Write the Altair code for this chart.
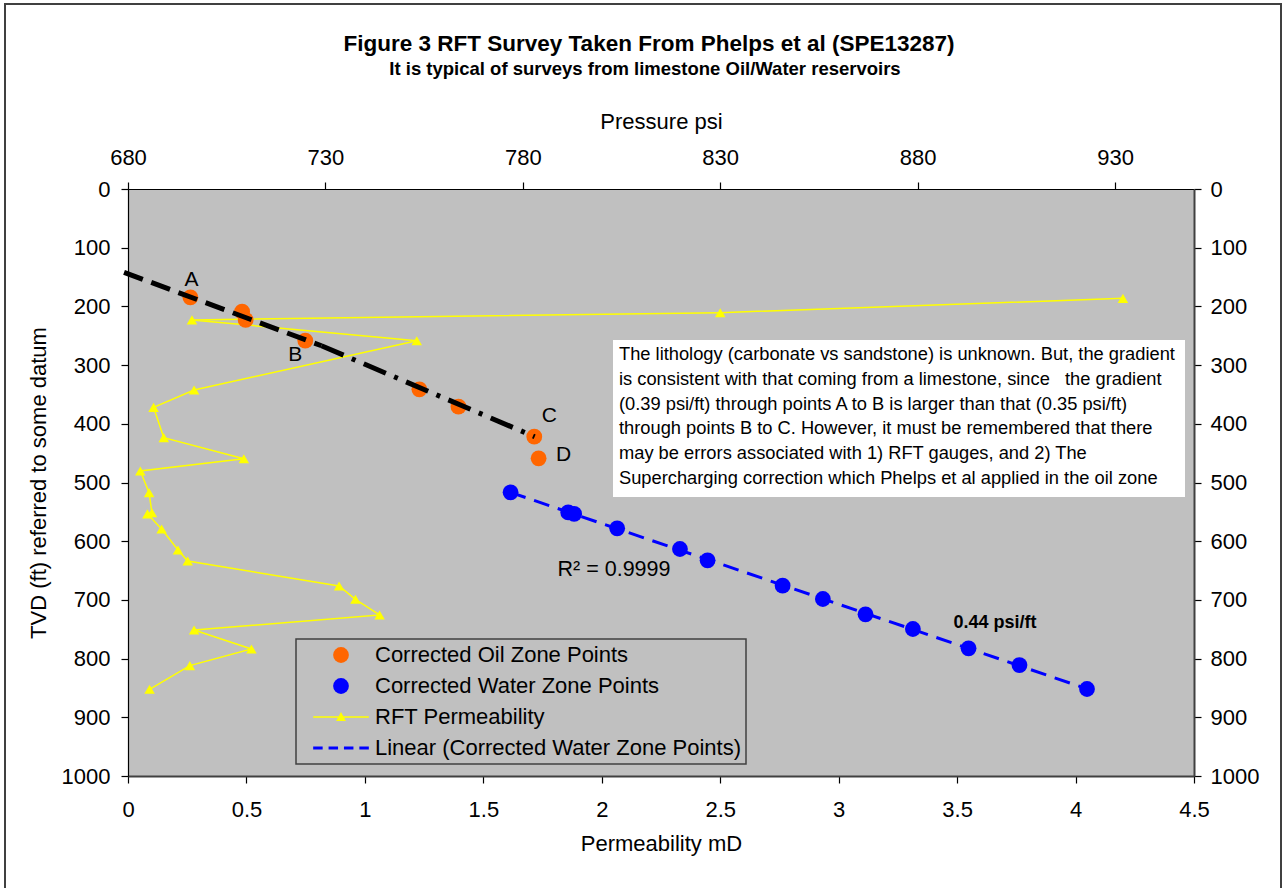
import altair as alt
import pandas as pd

FONT = "Liberation Sans"

# ---------------- data ----------------
# Corrected oil zone points: pressure (psi, top axis) vs TVD (ft)
oil_psi = [695.8, 708.9, 709.8, 724.9, 753.8, 763.7, 782.9, 784.0]
oil_tvd = [184.5, 209.0, 223.0, 258.4, 341.3, 370.8, 422.0, 458.8]
oil_lbl = ["A", "", "", "B", "", "", "C", "D"]

# Corrected water zone points
water_psi = [776.9, 791.5, 793.0, 803.9, 819.8, 826.8, 845.8, 856.0, 866.8, 878.8, 892.9, 905.8, 922.9]
water_tvd = [516.8, 551.0, 553.5, 578.0, 613.3, 632.6, 675.8, 698.5, 724.6, 749.6, 782.5, 811.0, 851.8]

# RFT permeability (mD, bottom axis) vs TVD, in survey order
rft_md = [4.20, 2.50, 0.270, 1.219, 0.279, 0.108, 0.151, 0.489, 0.052, 0.089, 0.101,
          0.082, 0.142, 0.211, 0.252, 0.891, 0.960, 1.062, 0.279, 0.521, 0.261, 0.091]
rft_tvd = [186.3, 210.7, 223.0, 258.4, 342.4, 372.0, 423.6, 459.4, 480.4, 517.3, 551.5,
           553.5, 579.2, 615.0, 633.7, 676.3, 699.0, 725.7, 751.3, 783.6, 812.0, 852.3]

# Hand-drawn gradient lines through the oil points
grad_ab_psi = [679.0, 729.0]
grad_ab_tvd = [142.0, 267.0]
grad_bc_psi = [729.0, 783.0]
grad_bc_tvd = [267.0, 422.0]

# Annotations (data positions)
r2_text = ["R\u00b2 = 0.9999"]
r2_psi = [803.1]
r2_tvd = [649.0]
slope_text = ["0.44 psi/ft"]
slope_psi = [899.6]
slope_tvd = [739.0]

box_lines = [
    "The lithology (carbonate vs sandstone) is unknown. But, the gradient",
    "is consistent with that coming from a limestone, since \u00a0 the gradient",
    "(0.39 psi/ft) through points A to B is larger than that (0.35 psi/ft)",
    "through points B to C. However, it must be remembered that there",
    "may be errors associated with 1) RFT gauges, and 2) The",
    "Supercharging correction which Phelps et al applied in the oil zone",
]

series_names = ["Corrected Oil Zone Points", "Corrected Water Zone Points",
                "RFT Permeability", "Linear (Corrected Water Zone Points)"]
series_colors = ["#FF6600", "#0000FF", "#FFFF00", "#0000FF"]

md_ticks = [0, 0.5, 1, 1.5, 2, 2.5, 3, 3.5, 4, 4.5]
psi_ticks = [680, 730, 780, 830, 880, 930]
tvd_ticks = [0, 100, 200, 300, 400, 500, 600, 700, 800, 900, 1000]

# ---------------- layout ----------------
X0, Y0 = 128, 189
W, H = 1066, 587

RFT_PATH = "M-3.52,-0.1H3.52V0.1H-3.52Z M0,-0.62L0.62,0.5L-0.62,0.5Z"
LIN_PATH = ("M-3.52,-0.19H-2.32V0.19H-3.52Z M-1.573,-0.19H-0.373V0.19H-1.573Z "
            "M0.373,-0.19H1.573V0.19H0.373Z M2.32,-0.19H3.52V0.19H2.32Z")
series_shapes = ["circle", "circle", RFT_PATH, LIN_PATH]

oil_df = pd.DataFrame({"psi": oil_psi, "tvd": oil_tvd, "label": oil_lbl,
                       "series": series_names[0]})
water_df = pd.DataFrame({"psi": water_psi, "tvd": water_tvd, "label": "",
                         "series": series_names[1]})
pts_df = pd.concat([oil_df, water_df], ignore_index=True)
rft_df = pd.DataFrame({"md": rft_md, "tvd": rft_tvd, "i": list(range(len(rft_md)))})
ab_df = pd.DataFrame({"psi": grad_ab_psi, "tvd": grad_ab_tvd})
bc_df = pd.DataFrame({"psi": grad_bc_psi, "tvd": grad_bc_tvd})
r2_df = pd.DataFrame({"psi": r2_psi, "tvd": r2_tvd, "t": r2_text})
slope_df = pd.DataFrame({"psi": slope_psi, "tvd": slope_tvd, "t": slope_text})
one = pd.DataFrame({"k": [0]})

y_scale = alt.Scale(domain=[0, 1000], reverse=True, nice=False, zero=False)
y_left = alt.Y("tvd:Q", scale=y_scale,
               axis=alt.Axis(orient="left", values=tvd_ticks, format="d",
                             title="TVD (ft) referred to some datum",
                             labelPadding=11, titlePadding=11,
                             domainColor="black", domainWidth=1.2))
y_right = alt.Y("tvd:Q", scale=y_scale,
                axis=alt.Axis(orient="right", values=tvd_ticks, format="d", title=None,
                              labelPadding=9, domainColor="#404040", domainWidth=2))
x_md = alt.X("md:Q", scale=alt.Scale(domain=[0, 4.5], nice=False, zero=False),
             axis=alt.Axis(orient="bottom", values=md_ticks, format="~g",
                           title="Permeability mD", labelPadding=16, titlePadding=13,
                           labelFlush=False, domainColor="#404040", domainWidth=2))
x_psi = alt.X("psi:Q", scale=alt.Scale(domain=[680, 950], nice=False, zero=False),
              axis=alt.Axis(orient="top", values=psi_ticks, format="d",
                            title="Pressure psi", labelPadding=13, titlePadding=13,
                            labelFlush=False, domainColor="black", domainWidth=1.2))

# ---------------- RFT permeability layer (bottom / left axes) ----------------
rft_line = alt.Chart(rft_df).mark_line(color="#FFFF00", strokeWidth=1.5).encode(
    x=x_md, y=y_left, order="i:Q")
rft_pts = alt.Chart(rft_df).mark_point(shape="triangle-up", filled=True, size=110,
                                       color="#FFFF00", opacity=1).encode(x=x_md, y=y_left)
rft_layer = alt.layer(rft_line, rft_pts)

# ---------------- pressure layer (top / right axes) ----------------
frame = alt.Chart(one).mark_rect(filled=False, stroke="#404040", strokeWidth=2, clip=False).encode(
    x=alt.value(5 - X0), x2=alt.value(1281 - X0), y=alt.value(4 - Y0), y2=alt.value(1000 - Y0))

title_txt = alt.Chart(one).mark_text(font=FONT, fontSize=22.5, fontWeight="bold", color="black",
                                     align="center", baseline="middle").encode(
    x=alt.value(649 - X0), y=alt.value(44 - Y0),
    text=alt.value("Figure 3 RFT Survey Taken From Phelps et al (SPE13287)"))
sub_txt = alt.Chart(one).mark_text(font=FONT, fontSize=18.5, fontWeight="bold", color="black",
                                   align="center", baseline="middle").encode(
    x=alt.value(645 - X0), y=alt.value(69 - Y0),
    text=alt.value("It is typical of surveys from limestone Oil/Water reservoirs"))

box = alt.Chart(one).mark_rect(fill="white").encode(
    x=alt.value(613 - X0), x2=alt.value(1185 - X0), y=alt.value(340 - Y0), y2=alt.value(497 - Y0))
box_txt = alt.Chart(one).mark_text(font=FONT, fontSize=18.3, lineHeight=24.8, color="black",
                                   align="left", baseline="top").encode(
    x=alt.value(619 - X0), y=alt.value(346 - Y0), text=alt.value(box_lines))

leg = alt.Legend(title=None, orient="none", legendX=296 - X0, legendY=639 - Y0,
                 fillColor="#C0C0C0", strokeColor="#404040", padding=5, rowPadding=9,
                 symbolSize=250, symbolOffset=29, labelOffset=23, labelFontSize=22,
                 labelFont=FONT, labelColor="black", symbolStrokeWidth=0, labelLimit=0)

points = alt.Chart(pts_df).mark_point(filled=True, size=250, opacity=1).encode(
    x=x_psi, y=y_right,
    color=alt.Color("series:N", scale=alt.Scale(domain=series_names, range=series_colors), legend=leg),
    shape=alt.Shape("series:N", scale=alt.Scale(domain=series_names, range=series_shapes), legend=leg))

trend = alt.Chart(water_df).transform_regression("tvd", "psi").mark_line(
    color="#0000FF", strokeWidth=3, strokeDash=[16, 9]).encode(x=x_psi, y=y_right)

grad_ab = alt.Chart(ab_df).mark_line(color="black", strokeWidth=5, strokeDash=[20, 9],
                                     clip=False).encode(x=x_psi, y=y_right)
grad_bc = alt.Chart(bc_df).mark_line(color="black", strokeWidth=5, strokeDash=[24, 9, 4, 9],
                                     clip=False).encode(x=x_psi, y=y_right)

label_offsets = {"A": (1, -17), "B": (-10, 14), "C": (15, -21), "D": (25, -3)}
label_layers = []
for lab, (ddx, ddy) in label_offsets.items():
    label_layers.append(
        alt.Chart(oil_df).transform_filter(alt.datum.label == lab).mark_text(
            font=FONT, fontSize=21, color="black", align="center", baseline="middle",
            dx=ddx, dy=ddy).encode(x=x_psi, y=y_right, text="label:N"))

r2 = alt.Chart(r2_df).mark_text(font=FONT, fontSize=21.5, color="black", align="center",
                                baseline="middle").encode(x=x_psi, y=y_right, text="t:N")
slope = alt.Chart(slope_df).mark_text(font=FONT, fontSize=18, fontWeight="bold", color="black",
                                      align="center", baseline="middle").encode(
    x=x_psi, y=y_right, text="t:N")

press_layer = alt.layer(frame, title_txt, sub_txt, box, box_txt, trend, points,
                        grad_ab, grad_bc, r2, slope, *label_layers)

chart = alt.layer(rft_layer, press_layer).resolve_scale(
    x="independent", y="independent"
).properties(
    width=W, height=H, autosize="none",
    padding={"left": X0, "top": Y0, "right": 1286 - X0 - W, "bottom": 888 - Y0 - H},
).configure(background="white").configure_view(
    fill="#C0C0C0", stroke=None
).configure_axis(
    labelFont=FONT, titleFont=FONT, labelFontSize=22, titleFontSize=22,
    titleFontWeight="normal", labelColor="black", titleColor="black",
    tickColor="black", tickSize=7, tickWidth=1.2, grid=False
).configure_legend(strokeWidth=1.5)

chart.save("out.html", embed_options={"renderer": "svg", "actions": False})
